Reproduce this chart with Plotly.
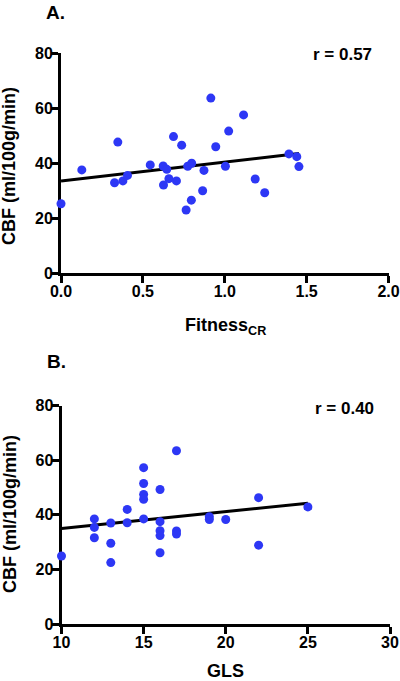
import numpy as np
import plotly.graph_objects as go

# Panel A data: Fitness_CR vs CBF
fitness_cr = [0.0, 0.127, 0.327, 0.347, 0.378, 0.406, 0.545, 0.624, 0.646, 0.626,
              0.659, 0.705, 0.687, 0.737, 0.764, 0.796, 0.774, 0.798, 0.865, 0.873,
              0.915, 0.945, 1.004, 1.024, 1.115, 1.186, 1.244, 1.392, 1.440, 1.453]
cbf_a = [25.2, 37.5, 32.8, 47.6, 33.5, 35.5, 39.3, 38.9, 37.7, 32.0,
         34.3, 33.5, 49.6, 46.5, 22.9, 26.5, 38.8, 39.9, 29.9, 37.3,
         63.6, 45.9, 38.8, 51.6, 57.5, 34.2, 29.2, 43.3, 42.3, 38.7]

# Panel B data: GLS vs CBF
gls = [10, 12, 12, 12, 13, 13, 13, 14, 14, 15, 15, 15, 15, 15,
       16, 16, 16, 16, 16, 17, 17, 17, 19, 19, 20, 22, 22, 25]
cbf_b = [24.9, 38.5, 35.4, 31.6, 37.0, 29.6, 22.5, 42.0, 37.1, 57.3, 51.5, 47.5, 45.7, 38.5,
         49.3, 37.5, 34.2, 32.4, 26.1, 63.5, 34.1, 33.0, 39.3, 38.3, 38.3, 46.3, 28.9, 42.9]

y_ticks = [0, 20, 40, 60, 80]
x_ticks_a = [0.0, 0.5, 1.0, 1.5, 2.0]
x_tick_labels_a = ["0.0", "0.5", "1.0", "1.5", "2.0"]
x_ticks_b = [10, 15, 20, 25, 30]
r_labels = ["r = 0.57", "r = 0.40"]
panel_labels = ["A.", "B."]

FONT = "Liberation Sans, Arial, sans-serif"
BLUE = "rgb(45,55,245)"
W, H = 400, 681


def fit(x, y):
    slope, intercept = np.polyfit(np.array(x, float), np.array(y, float), 1)
    xs = np.array([min(x), max(x)])
    return xs, intercept + slope * xs


fig = go.Figure()
fa_x, fa_y = fit(fitness_cr, cbf_a)
fb_x, fb_y = fit(gls, cbf_b)

fig.add_trace(go.Scatter(x=fa_x, y=fa_y, mode="lines", line=dict(color="black", width=3),
                         xaxis="x", yaxis="y", showlegend=False, cliponaxis=False))
fig.add_trace(go.Scatter(x=fitness_cr, y=cbf_a, mode="markers",
                         marker=dict(color=BLUE, size=9), xaxis="x", yaxis="y",
                         showlegend=False, cliponaxis=False))
fig.add_trace(go.Scatter(x=fb_x, y=fb_y, mode="lines", line=dict(color="black", width=3),
                         xaxis="x2", yaxis="y2", showlegend=False, cliponaxis=False))
fig.add_trace(go.Scatter(x=gls, y=cbf_b, mode="markers",
                         marker=dict(color=BLUE, size=9), xaxis="x2", yaxis="y2",
                         showlegend=False, cliponaxis=False))

tickfont = dict(family=FONT, size=16, color="black", weight="bold")
common = dict(showline=True, linecolor="black", linewidth=3, ticks="outside",
              ticklen=7, tickwidth=3, tickcolor="black", showgrid=False,
              zeroline=False, tickfont=tickfont, layer="below traces", fixedrange=True,
              automargin=False, ticklabelstandoff=-5)


def xdom(a, b):
    return [a / W, b / W]


def ydom(top, bottom):
    return [1 - bottom / H, 1 - top / H]


fig.update_layout(
    width=W, height=H,
    margin=dict(l=0, r=0, t=0, b=0, autoexpand=False),
    paper_bgcolor="white", plot_bgcolor="white",
    xaxis=dict(domain=xdom(61, 388.5), range=[0, 2], tickvals=x_ticks_a,
               ticktext=x_tick_labels_a, anchor="y", **common),
    yaxis=dict(domain=ydom(53, 273), range=[0, 80], tickvals=y_ticks,
               anchor="x", **common),
    xaxis2=dict(domain=xdom(61.5, 390), range=[10, 30], tickvals=x_ticks_b,
                anchor="y2", **common),
    yaxis2=dict(domain=ydom(405.7, 624), range=[0, 80], tickvals=y_ticks,
                anchor="x2", **common),
)


def ann(text, x, y, size=18, angle=0):
    fig.add_annotation(text=text, x=x / W, y=1 - y / H,
                       xref="paper", yref="paper",
                       showarrow=False, textangle=angle, xanchor="center", yanchor="middle",
                       font=dict(family=FONT, size=size, color="black", weight="bold"))


ann(panel_labels[0], 55, 12, size=19)
ann(panel_labels[1], 57, 361, size=19)
ann(r_labels[0], 342, 55, size=17)
ann(r_labels[1], 344, 408, size=17)
ann("CBF (ml/100g/min)", 9, 166, angle=-90)
ann("CBF (ml/100g/min)", 10, 514, angle=-90)
ann("Fitness<sub>CR</sub>", 226, 327)
ann("GLS", 226, 671)

fig.write_html("out.html", config={"displayModeBar": False},
               post_script="document.body.style.margin='0';document.body.style.overflow='hidden';")
